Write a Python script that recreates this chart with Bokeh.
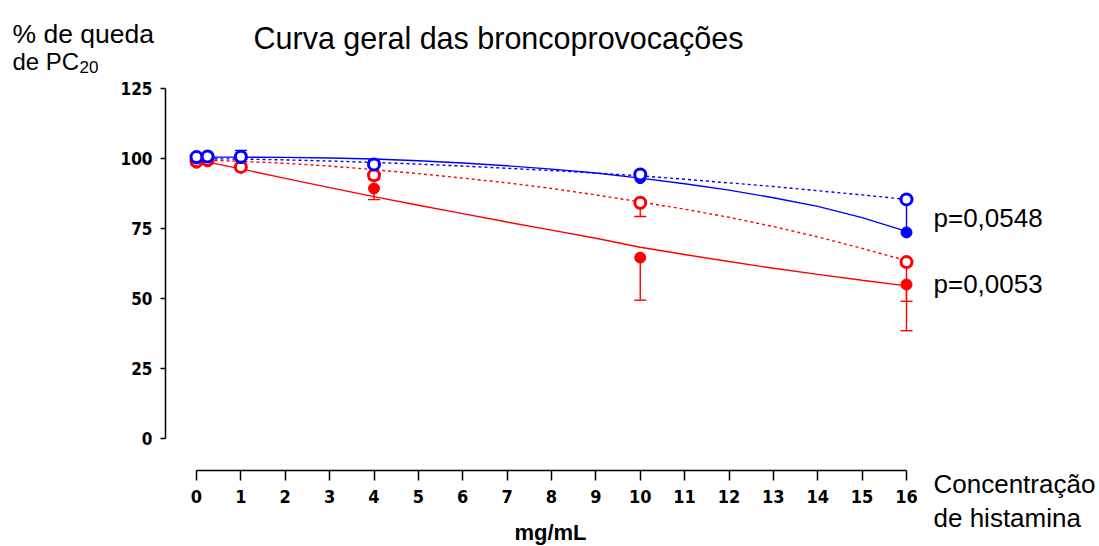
from bokeh.plotting import figure
from bokeh.models import Range1d, FixedTicker, Label, Whisker, TeeHead, ColumnDataSource
from bokeh.embed import file_html
from bokeh.resources import INLINE

# ---- data ----
x_pts = [0, 0.25, 1, 4, 10, 16]

red_filled = [98.5, 99.0, 97.5, 89.3, 64.6, 55.0]
red_filled_err = [0.8, 0.8, 1.0, 4.0, 15.2, 16.5]      # downward
red_open = [99.0, 99.5, 97.0, 94.0, 84.2, 63.0]
red_open_err = [0.5, 0.5, 1.0, 1.5, 4.9, 14.0]         # downward
blue_filled = [100.0, 100.5, 100.2, 98.0, 93.0, 73.6]
blue_filled_err = [0.5, 0.5, 0.8, 1.0, 1.0, 11.5]      # upward
blue_open = [100.5, 100.7, 100.6, 97.9, 94.3, 85.4]
blue_open_err = [0.5, 0.5, 2.3, 1.5, 0.8, 0.5]         # upward

x_curve = list(range(0, 17))
red_solid_curve = [99.5, 96.3, 92.9, 89.6, 86.4, 83.3, 80.3, 77.3, 74.4, 71.5, 68.3,
                   65.7, 63.2, 60.8, 58.6, 56.5, 54.5]
red_dotted_curve = [99.5, 99.0, 98.3, 97.3, 96.0, 94.6, 93.0, 91.3, 89.3, 87.0, 84.5,
                    81.9, 79.0, 75.7, 72.0, 67.9, 63.5]
blue_solid_curve = [100.5, 100.5, 100.4, 100.2, 99.8, 99.2, 98.4, 97.4, 96.2, 94.8, 93.0,
                    91.0, 88.7, 86.0, 82.9, 78.9, 74.0]
blue_dotted_curve = [100.0, 99.8, 99.5, 99.1, 98.6, 98.0, 97.3, 96.5, 95.7, 94.8, 93.8,
                     92.6, 91.3, 90.0, 88.5, 87.0, 85.4]

x_ticks = list(range(0, 17))
y_ticks = [0, 25, 50, 75, 100, 125]

title_text = "Curva geral das broncoprovocações"
ylab1 = "% de queda"
ylab2 = "de PC"
ylab_sub = "20"
p_blue = "p=0,0548"
p_red = "p=0,0053"
xlab_right1 = "Concentração"
xlab_right2 = "de histamina"
xlab_unit = "mg/mL"

RED = "#ff0000"
BLUE = "#0000ff"
SANS = "'Liberation Sans', Arial, sans-serif"
NARROW = "'DejaVu Sans Condensed', 'Liberation Sans Narrow', sans-serif"

# ---- layout helpers: pixel -> data coords ----
PX0, PY0, SX, SY = 196.0, 438.0, 44.375, 2.8
def dx(px):
    return (px - PX0) / SX
def dy(py):
    return (PY0 - py) / SY

W, H = 1099, 546
p = figure(width=W, height=H, output_backend="svg", toolbar_location=None,
           x_range=Range1d(dx(0), dx(W)), y_range=Range1d(dy(H), dy(0)),
           min_border=0, title=None)
p.outline_line_color = None
p.grid.visible = False
p.background_fill_color = "white"
p.border_fill_color = "white"

for ax in (p.xaxis[0], p.yaxis[0]):
    ax.axis_line_color = "black"
    ax.axis_line_width = 1.5
    ax.major_tick_line_color = "black"
    ax.major_tick_line_width = 1.5
    ax.minor_tick_line_color = None
    ax.major_tick_in = 0
    ax.major_label_text_font = NARROW
    ax.major_label_text_font_style = "bold"
    ax.major_label_text_color = "black"

p.yaxis.ticker = FixedTicker(ticks=y_ticks)
p.yaxis.bounds = (0, 125)
p.yaxis.fixed_location = dx(165)
p.yaxis.major_tick_out = 5
p.yaxis.major_label_standoff = 8
p.yaxis.major_label_text_font_size = "17px"

p.xaxis.ticker = FixedTicker(ticks=x_ticks)
p.xaxis.bounds = (0, 16)
p.xaxis.fixed_location = dy(470)
p.xaxis.major_tick_out = 10
p.xaxis.major_label_standoff = 9
p.xaxis.major_label_text_font_size = "18px"

# curves
p.line(x_curve, red_solid_curve, line_color=RED, line_width=1.4)
p.line(x_curve, red_dotted_curve, line_color=RED, line_width=1.4, line_dash="3 3")
p.line(x_curve, blue_solid_curve, line_color=BLUE, line_width=1.4)
p.line(x_curve, blue_dotted_curve, line_color=BLUE, line_width=1.4, line_dash="3 3")

def add_err(yv, ev, color, down):
    if down:
        lo = [a - b for a, b in zip(yv, ev)]
        hi = list(yv)
        src = ColumnDataSource(dict(x=x_pts, lo=lo, hi=hi))
        w = Whisker(source=src, base="x", lower="lo", upper="hi",
                    line_color=color, line_width=1.4, upper_head=None,
                    lower_head=TeeHead(size=12, line_color=color, line_width=1.4))
    else:
        hi = [a + b for a, b in zip(yv, ev)]
        lo = list(yv)
        src = ColumnDataSource(dict(x=x_pts, lo=lo, hi=hi))
        w = Whisker(source=src, base="x", lower="lo", upper="hi",
                    line_color=color, line_width=1.4, lower_head=None,
                    upper_head=TeeHead(size=12, line_color=color, line_width=1.4))
    p.add_layout(w)

add_err(red_filled, red_filled_err, RED, True)
add_err(red_open, red_open_err, RED, True)
add_err(blue_filled, blue_filled_err, BLUE, False)
add_err(blue_open, blue_open_err, BLUE, False)

p.scatter(x_pts, red_filled, marker="circle", size=11, fill_color=RED, line_color=RED)
p.scatter(x_pts, red_open, marker="circle", size=11, fill_color="white", line_color=RED, line_width=3)
p.scatter(x_pts, blue_filled, marker="circle", size=11, fill_color=BLUE, line_color=BLUE)
p.scatter(x_pts, blue_open, marker="circle", size=11, fill_color="white", line_color=BLUE, line_width=3)

def lab(text, px, py, size, align="left", style="normal"):
    p.add_layout(Label(x=dx(px), y=dy(py), text=text,
                       text_font=SANS, text_font_size=size, text_align=align,
                       text_baseline="alphabetic", text_color="black",
                       text_font_style=style))

lab(title_text, 253, 37, "30.5px")
lab(ylab1, 12, 33, "26.5px")
lab(ylab2, 12, 61, "24px")
lab(ylab_sub, 79, 66, "17px")
lab(p_blue, 933, 217, "26px")
lab(p_red, 933, 283, "26px")
lab(xlab_right1, 933, 483, "26px")
lab(xlab_right2, 933, 517, "26px")
lab(xlab_unit, 550, 532, "22px", align="center", style="bold")

open("out.html", "w").write(file_html(p, INLINE))
